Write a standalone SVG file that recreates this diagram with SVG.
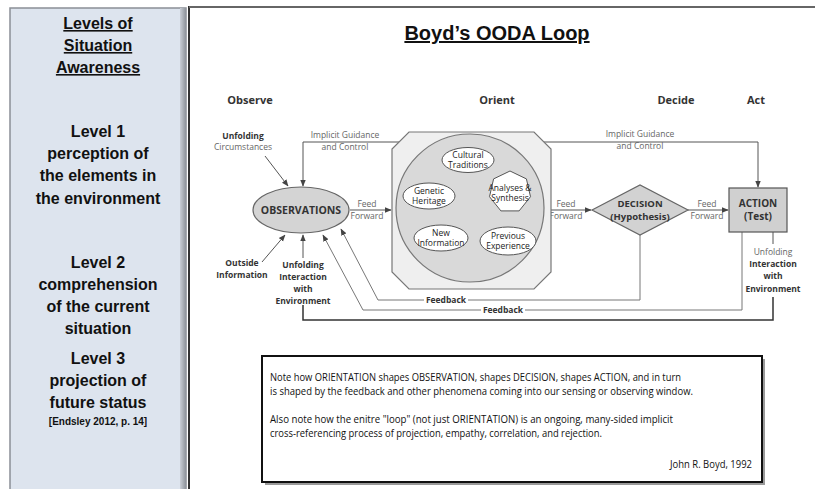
<svg xmlns="http://www.w3.org/2000/svg" width="815" height="489" viewBox="0 0 815 489">
<style>
.lp{font-family:"Liberation Sans",Arial,sans-serif;font-weight:bold;font-size:16px;fill:#111;text-anchor:middle}
.t{font-family:"Open Sans","Liberation Sans",sans-serif;text-anchor:middle;fill:#333}
.s{font-size:8.5px}
.i{font-size:8.5px;fill:#222}
.b{font-weight:bold}
.g{fill:#666}
.ln{fill:none;stroke:#555;stroke-width:1}
.fb{fill:none;stroke:#777;stroke-width:1}
.note{font-family:"Open Sans","Liberation Sans",sans-serif;font-size:10.5px;fill:#111}
</style>
<defs>
<marker id="ah" viewBox="0 0 10 10" refX="9" refY="5" markerWidth="7" markerHeight="7" markerUnits="userSpaceOnUse" orient="auto-start-reverse"><path d="M0,1 L10,5 L0,9 z" fill="#444"/></marker>
<marker id="sm" viewBox="0 0 10 10" refX="9" refY="5" markerWidth="5" markerHeight="5" markerUnits="userSpaceOnUse" orient="auto-start-reverse"><path d="M0,1 L10,5 L0,9 z" fill="#333"/></marker>
<linearGradient id="bev" x1="0" x2="1" y1="0" y2="0"><stop offset="0" stop-color="#c9ced6"/><stop offset="1" stop-color="#8e939a"/></linearGradient>
</defs>
<rect width="815" height="489" fill="#fff"/>
<g id="left-panel">
<rect x="10" y="8" width="176" height="490" fill="#dde4ee" stroke="#8a8f96" stroke-width="1.5"/>
<rect x="180" y="8" width="6" height="490" fill="url(#bev)"/>
<line x1="189" y1="6" x2="189" y2="489" stroke="#333" stroke-width="2"/>
<text class="lp" x="98" y="29" text-decoration="underline">Levels of</text>
<text class="lp" x="98" y="51" text-decoration="underline">Situation</text>
<text class="lp" x="98" y="73" text-decoration="underline">Awareness</text>
<text class="lp" x="98" y="137">Level 1</text>
<text class="lp" x="98" y="159">perception of</text>
<text class="lp" x="98" y="181">the elements in</text>
<text class="lp" x="98" y="204">the environment</text>
<text class="lp" x="98" y="268">Level 2</text>
<text class="lp" x="98" y="290">comprehension</text>
<text class="lp" x="98" y="312">of the current</text>
<text class="lp" x="98" y="334">situation</text>
<text class="lp" x="98" y="364">Level 3</text>
<text class="lp" x="98" y="386">projection of</text>
<text class="lp" x="98" y="408">future status</text>
<text class="lp" x="98" y="425" style="font-size:10px">[Endsley 2012, p. 14]</text>
</g>
<line x1="189" y1="7" x2="815" y2="7" stroke="#666" stroke-width="2"/>
<text x="497" y="40" style="font-family:'Liberation Sans',Arial,sans-serif;font-weight:bold;font-size:20px;text-anchor:middle" fill="#111" text-decoration="underline">Boyd’s OODA Loop</text>
<g id="headers">
<text class="t b" x="250" y="104" style="font-size:11px" fill="#222">Observe</text>
<text class="t b" x="497" y="104" style="font-size:11px">Orient</text>
<text class="t b" x="676" y="104" style="font-size:11px">Decide</text>
<text class="t b" x="756" y="104" style="font-size:11px">Act</text>
</g>
<g id="connectors">
<path class="ln" d="M399,142 H303 V186" marker-end="url(#ah)"/>
<path class="ln" d="M544,142 H758 V187" marker-end="url(#ah)"/>
<path class="ln" d="M265,156 L288,186" marker-end="url(#ah)"/>
<path class="ln" d="M262,262 L285,235" marker-end="url(#ah)"/>
<path class="ln" d="M303,258 V235" marker-end="url(#ah)"/>
<path class="ln" d="M350,210 H391" marker-end="url(#ah)"/>
<path class="ln" d="M551,210 H591" marker-end="url(#ah)"/>
<path class="ln" d="M688,210 H728" marker-end="url(#ah)"/>
<path class="fb" d="M640,235 V300 H378 L341,229" marker-end="url(#ah)"/>
<path class="fb" d="M742,232 V310 H363 L323,235" marker-end="url(#ah)"/>
<path class="ln" d="M773,232 V244"/>
<path d="M773,297 V320 H303 V305" fill="none" stroke="#333" stroke-width="1.5"/>
<g stroke="#444" stroke-width="0.9" marker-start="url(#sm)" marker-end="url(#sm)">
<line x1="456" y1="171" x2="441" y2="185"/>
<line x1="482" y1="171" x2="493" y2="179"/>
<line x1="464" y1="172" x2="445" y2="225"/>
<line x1="474" y1="172" x2="501" y2="227"/>
<line x1="455" y1="195" x2="489" y2="193"/>
<line x1="433" y1="209" x2="437" y2="225"/>
<line x1="446" y1="206" x2="490" y2="231"/>
<line x1="492" y1="204" x2="457" y2="228"/>
<line x1="509" y1="213" x2="507" y2="227"/>
<line x1="468" y1="239" x2="480" y2="240"/>
</g>
<rect x="424" y="294" width="44" height="11" fill="#fff"/>
<text class="t b s" x="446" y="303" fill="#222">Feedback</text>
<rect x="481" y="304" width="44" height="11" fill="#fff"/>
<text class="t b s" x="503" y="313" fill="#222">Feedback</text>
</g>
<g id="labels">
<text class="t b s" x="243" y="139">Unfolding</text>
<text class="t s g" x="243" y="150">Circumstances</text>
<text class="t s g" x="345" y="138">Implicit Guidance</text>
<text class="t s g" x="345" y="150">and Control</text>
<text class="t s g" x="640" y="137">Implicit Guidance</text>
<text class="t s g" x="640" y="149">and Control</text>
<text class="t s g" x="367" y="207">Feed</text>
<text class="t s g" x="367" y="219">Forward</text>
<text class="t s g" x="566" y="207">Feed</text>
<text class="t s g" x="566" y="219">Forward</text>
<text class="t s g" x="707" y="207">Feed</text>
<text class="t s g" x="707" y="219">Forward</text>
<text class="t b s" x="242" y="266">Outside</text>
<text class="t b s" x="242" y="278">Information</text>
<text class="t b s" x="303" y="268">Unfolding</text>
<text class="t b s" x="303" y="280">Interaction</text>
<text class="t b s" x="303" y="292">with</text>
<text class="t b s" x="303" y="304">Environment</text>
<text class="t s g" x="773" y="255">Unfolding</text>
<text class="t b s" x="773" y="267">Interaction</text>
<text class="t b s" x="773" y="279">with</text>
<text class="t b s" x="773" y="292">Environment</text>
</g>
<g id="observations">
<ellipse cx="301" cy="210" rx="48" ry="23" fill="#d4d4d4" stroke="#666" stroke-width="1.2"/>
<text class="t b" x="301" y="214" style="font-size:10.5px" fill="#444">OBSERVATIONS</text>
</g>
<g id="orient">
<path d="M409,132 L534,132 L551,149 L551,272 L534,289 L409,289 L392,272 L392,149 Z" fill="#efefef" stroke="#777" stroke-width="1.2"/>
<circle cx="470" cy="208" r="74" fill="#d9d9d9" stroke="#777" stroke-width="1.2"/>
</g>
<g id="cultural-traditions">
<ellipse cx="468" cy="160" rx="26" ry="12.5" fill="#fff" stroke="#555"/>
<text class="t i" x="468" y="158">Cultural</text>
<text class="t i" x="468" y="168">Traditions</text>
</g>
<g id="genetic-heritage">
<ellipse cx="429" cy="196" rx="26" ry="13" fill="#fff" stroke="#555"/>
<text class="t i" x="429" y="194">Genetic</text>
<text class="t i" x="429" y="204">Heritage</text>
</g>
<g id="analyses-synthesis">
<polygon points="510,171 526.4,178.9 530.5,196.7 519.1,210.9 500.9,210.9 489.5,196.7 493.6,178.9" fill="#fff" stroke="#555"/>
<text class="t i" x="510" y="191">Analyses &amp;</text>
<text class="t i" x="510" y="201">Synthesis</text>
</g>
<g id="new-information">
<ellipse cx="441" cy="238" rx="27" ry="13" fill="#fff" stroke="#555"/>
<text class="t i" x="441" y="236">New</text>
<text class="t i" x="441" y="246">Information</text>
</g>
<g id="previous-experience">
<ellipse cx="508" cy="241" rx="28" ry="14" fill="#fff" stroke="#555"/>
<text class="t i" x="508" y="239">Previous</text>
<text class="t i" x="508" y="249">Experience</text>
</g>
<g id="decision">
<polygon points="592,210 640,185 688,210 640,235" fill="#d2d2d2" stroke="#666" stroke-width="1.2"/>
<text class="t b" x="640" y="207" style="font-size:9.5px" fill="#444">DECISION</text>
<text class="t b" x="640" y="220" style="font-size:9.5px" fill="#444">(Hypothesis)</text>
</g>
<g id="action">
<rect x="729" y="188" width="58" height="44" fill="#d0d0d0" stroke="#555" stroke-width="1.2"/>
<text class="t b" x="758" y="207" style="font-size:10px" fill="#444">ACTION</text>
<text class="t b" x="758" y="220" style="font-size:10px" fill="#444">(Test)</text>
</g>
<g id="note">
<rect x="265" y="359" width="500" height="126" fill="#9a9a9a"/>
<rect x="262" y="356" width="500" height="126" fill="#fff" stroke="#111" stroke-width="2"/>
<text class="note" x="270" y="381" textLength="411" lengthAdjust="spacingAndGlyphs">Note how ORIENTATION shapes OBSERVATION, shapes DECISION, shapes ACTION, and in turn</text>
<text class="note" x="270" y="395" textLength="423" lengthAdjust="spacingAndGlyphs">is shaped by the feedback and other phenomena coming into our sensing or observing window.</text>
<text class="note" x="270" y="423" textLength="403" lengthAdjust="spacingAndGlyphs">Also note how the enitre "loop" (not just ORIENTATION) is an ongoing, many-sided implicit</text>
<text class="note" x="270" y="437" textLength="332" lengthAdjust="spacingAndGlyphs">cross-referencing process of projection, empathy, correlation, and rejection.</text>
<text class="note" x="752" y="468" style="text-anchor:end" textLength="82" lengthAdjust="spacingAndGlyphs">John R. Boyd, 1992</text>
</g>
</svg>
